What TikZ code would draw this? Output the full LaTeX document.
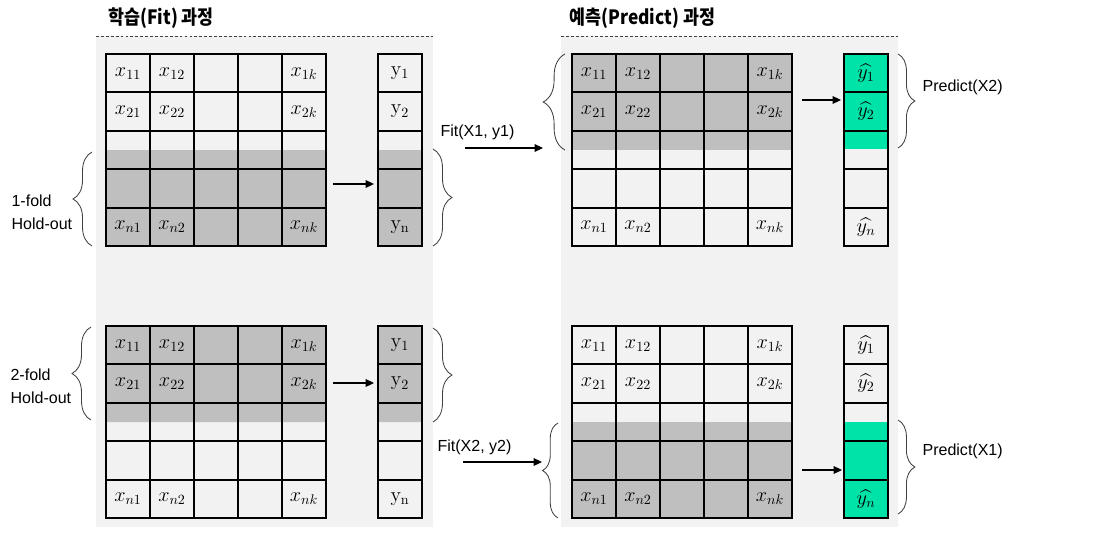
\documentclass[tikz,border=0pt]{standalone}
\usepackage{amsmath}
\usepackage[no-math]{fontspec}
\setmainfont{Liberation Sans}
\newfontfamily\krfont[FakeStretch=0.88]{Noto Sans CJK KR}
\usetikzlibrary{arrows.meta, positioning, calc, decorations.pathreplacing}

\definecolor{panelgray}{HTML}{F2F2F2}
\definecolor{holdgray}{HTML}{BFBFBF}
\definecolor{predgreen}{HTML}{00E3A8}
\definecolor{bracegray}{HTML}{404040}

\tikzset{
  cellline/.style={line width=1.3pt, black, line cap=rect},
  celltext/.style={inner sep=0pt, font=\fontsize{14}{16}\selectfont},
  lbl/.style={inner sep=0pt, anchor=west, font=\fontsize{11.4}{16.4}\selectfont},
  fold/.style={lbl, align=left},
  titletext/.style={inner sep=0pt, anchor=west, font=\krfont\bfseries\fontsize{14}{16}\selectfont},
  curly/.style={decorate, decoration={brace, amplitude=#1}, bracegray, line width=0.6pt},
  topline/.style={bracegray, line width=0.6pt, dash pattern=on 2pt off 1.5pt},
}

\begin{document}
\begin{tikzpicture}[x=0.025cm, y=-0.025cm, >={Triangle[length=6pt,width=5.5pt]}, line width=0.8pt]
\useasboundingbox (0,0) rectangle (1120,533);
% two panels
\fill[panelgray] (96,36) rectangle (433,527);
\fill[panelgray] (561,36) rectangle (898,527);
\draw[topline] (96,36) -- (433,36);
\draw[topline] (561,36) -- (898,36);
\node[titletext] (fittitle) at (108,18) {학습(Fit) 과정};
\node[titletext] (predtitle) at (569,18) {예측(Predict) 과정};

% hold-out and predicted parts
\fill[holdgray] (106,150) rectangle (326,246) (378,150) rectangle (422,246);
\fill[holdgray] (572,54) rectangle (792,150);
\fill[predgreen] (844,54) rectangle (888,149);
\fill[holdgray] (106,326) rectangle (326,422) (378,326) rectangle (422,422);
\fill[holdgray] (572,422) rectangle (792,518);
\fill[predgreen] (844,422) rectangle (888,518);

% grids
\foreach \px/\py in {106/54, 572/54, 106/326, 572/326} {
  \foreach \i in {0,...,5} \draw[cellline] (\px+\i*44,\py) -- ++(0,192);
  \foreach \j in {0,...,5} \draw[cellline] (\px,\py+\j*38.4) -- ++(220,0);
  \foreach \i in {0,1} \draw[cellline] (\px+272+\i*44,\py) -- ++(0,192);
  \foreach \j in {0,...,5} \draw[cellline] (\px+272,\py+\j*38.4) -- ++(44,0);
}

% cell entries
\foreach \px/\py/\nm in {106/54/tl, 572/54/tr, 106/326/bl, 572/326/br}
  \foreach \c/\r/\t in {1/1/{x_{11}}, 2/1/{x_{12}}, 5/1/{x_{1k}}, 1/2/{x_{21}}, 2/2/{x_{22}}, 5/2/{x_{2k}}, 1/5/{x_{n1}}, 2/5/{x_{n2}}, 5/5/{x_{nk}}}
    \node[celltext] (\nm-\r-\c) at (\px+\c*44-22,\py+\r*38.4-19.2) {$\t$};
\foreach \py/\nm in {54/tl, 326/bl}
  \foreach \r/\t in {1/{\mathrm{y}_1}, 2/{\mathrm{y}_2}, 5/{\mathrm{y}_\mathrm{n}}}
    \node[celltext] (\nm-y\r) at (400,\py+\r*38.4-19.2) {$\t$};
\foreach \py/\nm in {54/tr, 326/br}
  \foreach \r/\t in {1/{\widehat{y_1}}, 2/{\widehat{y_2}}, 5/{\widehat{y_n}}}
    \node[celltext] (\nm-y\r) at (866,\py+\r*38.4-19.2) {$\t$};

% braces
\draw[curly=13.5pt] (92,246) -- (92,152);
\draw[curly=13.5pt] (433,149) -- (433,246);
\draw[curly=15.5pt] (565,150) -- (565,54);
\draw[curly=12pt] (898,54) -- (898,148);
\draw[curly=13.5pt] (91,420) -- (91,327);
\draw[curly=13.5pt] (433,328) -- (433,422);
\draw[curly=11pt] (558,518) -- (558,423);
\draw[curly=12pt] (898,420) -- (898,514);

% labels
\node[fold] (fold1) at (11,212) {1-fold\\Hold-out};
\node[fold] (fold2) at (10,386) {2-fold\\Hold-out};
\node[lbl] (fit1) at (440,132) {Fit(X1, y1)};
\node[lbl] (fit2) at (437,447) {Fit(X2, y2)};
\node[lbl] (pred2) at (922,87) {Predict(X2)};
\node[lbl] (pred1) at (922,451) {Predict(X1)};

% arrows
\coordinate (tl-a) at (333,184); \coordinate (tl-b) at (374,184);
\coordinate (tr-a) at (802,100); \coordinate (tr-b) at (841,100);
\coordinate (bl-a) at (333,383); \coordinate (bl-b) at (374,383);
\coordinate (br-a) at (802,470); \coordinate (br-b) at (842,470);
\coordinate (fit1-a) at (465,148); \coordinate (fit1-b) at (543,148);
\coordinate (fit2-a) at (463,462); \coordinate (fit2-b) at (542,462);
\draw[->] (tl-a) -- (tl-b);
\draw[->] (tr-a) -- (tr-b);
\draw[->] (bl-a) -- (bl-b);
\draw[->] (br-a) -- (br-b);
\draw[->] (fit1-a) -- (fit1-b);
\draw[->] (fit2-a) -- (fit2-b);
\end{tikzpicture}
\end{document}
